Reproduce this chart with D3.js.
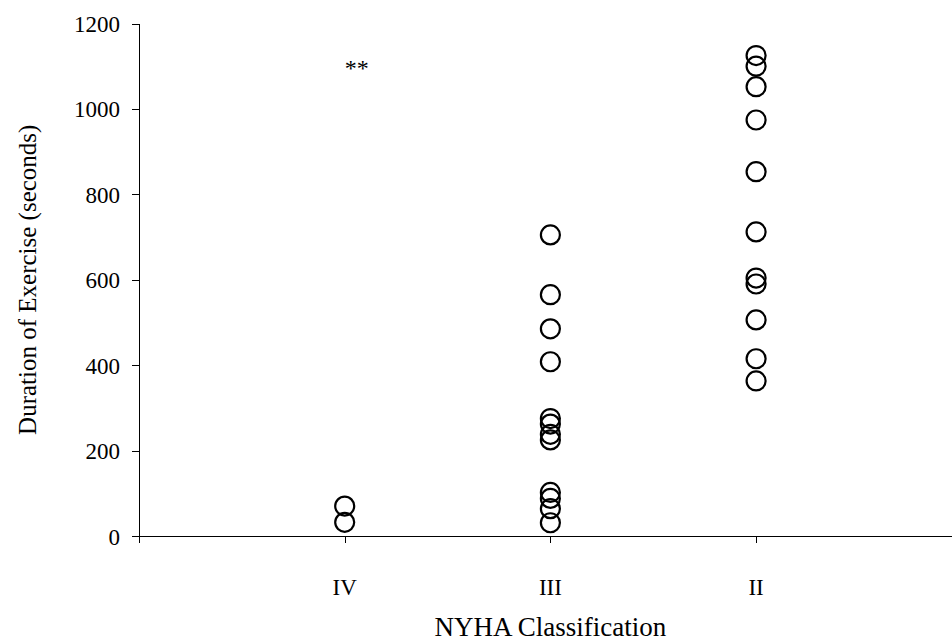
<!DOCTYPE html>
<meta charset="utf-8">
<title>NYHA class vs exercise duration</title>
<style>

body {
  margin: 0px;
  background: #fff;
}

svg {
  display: block;
  font-family: "Liberation Serif", "Times New Roman", serif;
}

.axis path, .axis line {
  stroke: #000;
  stroke-width: 1px;
  shape-rendering: crispEdges;
}

.axis text {
  font-family: "Liberation Serif", "Times New Roman", serif;
  font-size: 23px;
  fill: #000;
}

.dot {
  fill: none;
  stroke: #000;
  stroke-width: 2.2px;
}

</style>

<script src="https://d3js.org/d3.v7.min.js"></script>

<body>
<script>

var width = 952, height = 642;

// categories on the x axis (placed at 1, 2, 3)
var classes = ["IV", "III", "II"];

// duration of exercise (seconds) for each NYHA class
var classIV = [70, 32];
var classIII = [705, 565, 485, 408, 275, 262, 238, 225, 102, 88, 64, 31];
var classII = [1125, 1100, 1052, 974, 853, 712, 604, 590, 506, 415, 363];

var yTicks = [0, 200, 400, 600, 800, 1000, 1200];

var margin = {left: 139, top: 23.5, bottom: 536};

var x = d3.scaleLinear()
    .domain([0, 4])
    .range([margin.left, margin.left + 4 * 205.7]);

var y = d3.scaleLinear()
    .domain([0, 1200])
    .range([margin.bottom, margin.top]);

var svg = d3.select("body").append("svg")
    .attr("width", width)
    .attr("height", height);

// flatten the three groups into points
var points = [];
[classIV, classIII, classII].forEach(function(vals, i) {
  vals.forEach(function(v) { points.push({cls: i + 1, value: v}); });
});

// y axis
svg.append("g")
    .attr("class", "axis")
    .attr("transform", "translate(" + margin.left + ",0)")
    .call(d3.axisLeft(y).tickValues(yTicks).tickFormat(d3.format("d"))
      .tickSize(7).tickPadding(12).tickSizeOuter(0))
  .selectAll("text")
    .attr("dy", "0.35em");

// x axis: line with ticks under each class, labels drawn separately
svg.append("g")
    .attr("class", "axis")
    .attr("transform", "translate(0," + margin.bottom + ")")
    .call(d3.axisBottom(x).tickValues([0, 1, 2, 3]).tickSize(7).tickSizeOuter(0).tickFormat(""));

svg.selectAll(".cat")
    .data(classes)
  .enter().append("text")
    .attr("class", "cat")
    .attr("x", function(d, i) { return x(i + 1); })
    .attr("y", 595)
    .attr("text-anchor", "middle")
    .style("font-size", "23px")
    .text(function(d) { return d; });

// axis titles
svg.append("text")
    .attr("x", x(2))
    .attr("y", 636)
    .attr("text-anchor", "middle")
    .style("font-size", "27px")
    .text("NYHA Classification");

svg.append("text")
    .attr("transform", "translate(36," + ((margin.top + margin.bottom) / 2) + ") rotate(-90)")
    .attr("text-anchor", "middle")
    .style("font-size", "25px")
    .text("Duration of Exercise (seconds)");

// significance marker
svg.append("text")
    .attr("x", x(1) + 12)
    .attr("y", 76)
    .attr("text-anchor", "middle")
    .style("font-size", "24px")
    .text("**");

// data points
svg.selectAll("circle.dot")
    .data(points)
  .enter().append("circle")
    .attr("class", "dot")
    .attr("cx", function(d) { return x(d.cls); })
    .attr("cy", function(d) { return y(d.value); })
    .attr("r", 9.5);

</script>
